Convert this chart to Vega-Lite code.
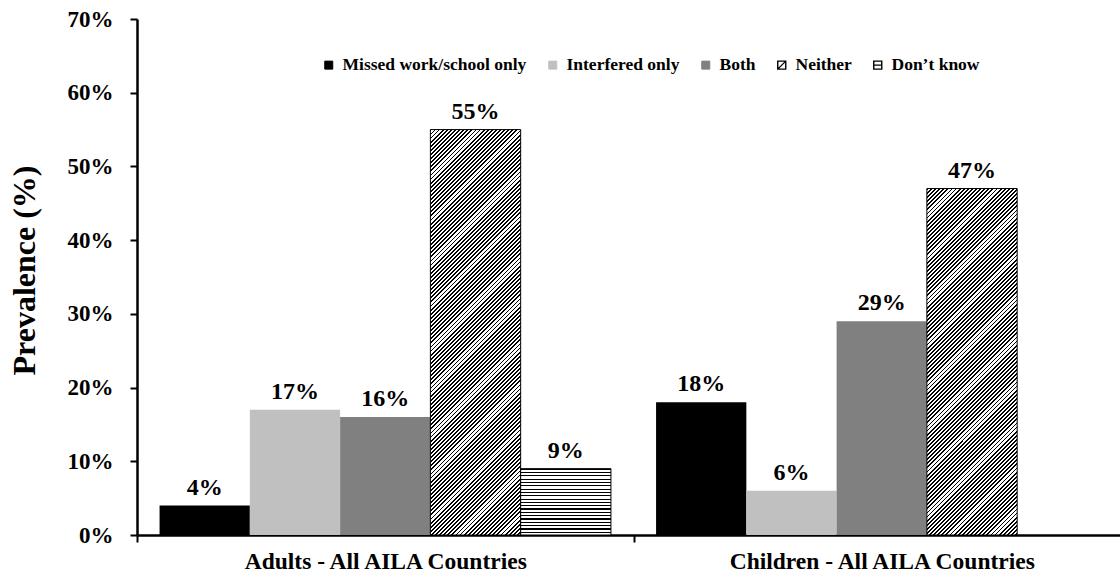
{
  "$schema": "https://vega.github.io/schema/vega-lite/v6.json",
  "autosize": {"type": "none"},
  "padding": {"left": 137, "top": 19, "right": 0, "bottom": 39},
  "width": 983,
  "height": 516,
  "background": "white",
  "config": {"view": {"stroke": null}, "font": "Liberation Serif"},
  "params": [
    {
      "name": "hatchStops",
      "value": [
        {"offset":0,"color":"#000"},{"offset":0.0036,"color":"#000"},{"offset":0.0036,"color":"#fff"},{"offset":0.008,"color":"#fff"},
        {"offset":0.008,"color":"#000"},{"offset":0.0116,"color":"#000"},{"offset":0.0116,"color":"#fff"},{"offset":0.016,"color":"#fff"},
        {"offset":0.016,"color":"#000"},{"offset":0.0196,"color":"#000"},{"offset":0.0196,"color":"#fff"},{"offset":0.024,"color":"#fff"},
        {"offset":0.024,"color":"#000"},{"offset":0.0276,"color":"#000"},{"offset":0.0276,"color":"#fff"},{"offset":0.032,"color":"#fff"},
        {"offset":0.032,"color":"#000"},{"offset":0.0356,"color":"#000"},{"offset":0.0356,"color":"#fff"},{"offset":0.04,"color":"#fff"},
        {"offset":0.04,"color":"#000"},{"offset":0.0436,"color":"#000"},{"offset":0.0436,"color":"#fff"},{"offset":0.048,"color":"#fff"},
        {"offset":0.048,"color":"#000"},{"offset":0.0516,"color":"#000"},{"offset":0.0516,"color":"#fff"},{"offset":0.056,"color":"#fff"},
        {"offset":0.056,"color":"#000"},{"offset":0.0596,"color":"#000"},{"offset":0.0596,"color":"#fff"},{"offset":0.064,"color":"#fff"},
        {"offset":0.064,"color":"#000"},{"offset":0.0676,"color":"#000"},{"offset":0.0676,"color":"#fff"},{"offset":0.072,"color":"#fff"},
        {"offset":0.072,"color":"#000"},{"offset":0.0756,"color":"#000"},{"offset":0.0756,"color":"#fff"},{"offset":0.08,"color":"#fff"},
        {"offset":0.08,"color":"#000"},{"offset":0.0836,"color":"#000"},{"offset":0.0836,"color":"#fff"},{"offset":0.088,"color":"#fff"},
        {"offset":0.088,"color":"#000"},{"offset":0.0916,"color":"#000"},{"offset":0.0916,"color":"#fff"},{"offset":0.096,"color":"#fff"},
        {"offset":0.096,"color":"#000"},{"offset":0.0996,"color":"#000"},{"offset":0.0996,"color":"#fff"},{"offset":0.104,"color":"#fff"},
        {"offset":0.104,"color":"#000"},{"offset":0.1076,"color":"#000"},{"offset":0.1076,"color":"#fff"},{"offset":0.112,"color":"#fff"},
        {"offset":0.112,"color":"#000"},{"offset":0.1156,"color":"#000"},{"offset":0.1156,"color":"#fff"},{"offset":0.12,"color":"#fff"},
        {"offset":0.12,"color":"#000"},{"offset":0.1236,"color":"#000"},{"offset":0.1236,"color":"#fff"},{"offset":0.128,"color":"#fff"},
        {"offset":0.128,"color":"#000"},{"offset":0.1316,"color":"#000"},{"offset":0.1316,"color":"#fff"},{"offset":0.136,"color":"#fff"},
        {"offset":0.136,"color":"#000"},{"offset":0.1396,"color":"#000"},{"offset":0.1396,"color":"#fff"},{"offset":0.144,"color":"#fff"},
        {"offset":0.144,"color":"#000"},{"offset":0.1476,"color":"#000"},{"offset":0.1476,"color":"#fff"},{"offset":0.152,"color":"#fff"},
        {"offset":0.152,"color":"#000"},{"offset":0.1556,"color":"#000"},{"offset":0.1556,"color":"#fff"},{"offset":0.16,"color":"#fff"},
        {"offset":0.16,"color":"#000"},{"offset":0.1636,"color":"#000"},{"offset":0.1636,"color":"#fff"},{"offset":0.168,"color":"#fff"},
        {"offset":0.168,"color":"#000"},{"offset":0.1716,"color":"#000"},{"offset":0.1716,"color":"#fff"},{"offset":0.176,"color":"#fff"},
        {"offset":0.176,"color":"#000"},{"offset":0.1796,"color":"#000"},{"offset":0.1796,"color":"#fff"},{"offset":0.184,"color":"#fff"},
        {"offset":0.184,"color":"#000"},{"offset":0.1876,"color":"#000"},{"offset":0.1876,"color":"#fff"},{"offset":0.192,"color":"#fff"},
        {"offset":0.192,"color":"#000"},{"offset":0.1956,"color":"#000"},{"offset":0.1956,"color":"#fff"},{"offset":0.2,"color":"#fff"},
        {"offset":0.2,"color":"#000"},{"offset":0.2036,"color":"#000"},{"offset":0.2036,"color":"#fff"},{"offset":0.208,"color":"#fff"},
        {"offset":0.208,"color":"#000"},{"offset":0.2116,"color":"#000"},{"offset":0.2116,"color":"#fff"},{"offset":0.216,"color":"#fff"},
        {"offset":0.216,"color":"#000"},{"offset":0.2196,"color":"#000"},{"offset":0.2196,"color":"#fff"},{"offset":0.224,"color":"#fff"},
        {"offset":0.224,"color":"#000"},{"offset":0.2276,"color":"#000"},{"offset":0.2276,"color":"#fff"},{"offset":0.232,"color":"#fff"},
        {"offset":0.232,"color":"#000"},{"offset":0.2356,"color":"#000"},{"offset":0.2356,"color":"#fff"},{"offset":0.24,"color":"#fff"},
        {"offset":0.24,"color":"#000"},{"offset":0.2436,"color":"#000"},{"offset":0.2436,"color":"#fff"},{"offset":0.248,"color":"#fff"},
        {"offset":0.248,"color":"#000"},{"offset":0.2516,"color":"#000"},{"offset":0.2516,"color":"#fff"},{"offset":0.256,"color":"#fff"},
        {"offset":0.256,"color":"#000"},{"offset":0.2596,"color":"#000"},{"offset":0.2596,"color":"#fff"},{"offset":0.264,"color":"#fff"},
        {"offset":0.264,"color":"#000"},{"offset":0.2676,"color":"#000"},{"offset":0.2676,"color":"#fff"},{"offset":0.272,"color":"#fff"},
        {"offset":0.272,"color":"#000"},{"offset":0.2756,"color":"#000"},{"offset":0.2756,"color":"#fff"},{"offset":0.28,"color":"#fff"},
        {"offset":0.28,"color":"#000"},{"offset":0.2836,"color":"#000"},{"offset":0.2836,"color":"#fff"},{"offset":0.288,"color":"#fff"},
        {"offset":0.288,"color":"#000"},{"offset":0.2916,"color":"#000"},{"offset":0.2916,"color":"#fff"},{"offset":0.296,"color":"#fff"},
        {"offset":0.296,"color":"#000"},{"offset":0.2996,"color":"#000"},{"offset":0.2996,"color":"#fff"},{"offset":0.304,"color":"#fff"},
        {"offset":0.304,"color":"#000"},{"offset":0.3076,"color":"#000"},{"offset":0.3076,"color":"#fff"},{"offset":0.312,"color":"#fff"},
        {"offset":0.312,"color":"#000"},{"offset":0.3156,"color":"#000"},{"offset":0.3156,"color":"#fff"},{"offset":0.32,"color":"#fff"},
        {"offset":0.32,"color":"#000"},{"offset":0.3236,"color":"#000"},{"offset":0.3236,"color":"#fff"},{"offset":0.328,"color":"#fff"},
        {"offset":0.328,"color":"#000"},{"offset":0.3316,"color":"#000"},{"offset":0.3316,"color":"#fff"},{"offset":0.336,"color":"#fff"},
        {"offset":0.336,"color":"#000"},{"offset":0.3396,"color":"#000"},{"offset":0.3396,"color":"#fff"},{"offset":0.344,"color":"#fff"},
        {"offset":0.344,"color":"#000"},{"offset":0.3476,"color":"#000"},{"offset":0.3476,"color":"#fff"},{"offset":0.352,"color":"#fff"},
        {"offset":0.352,"color":"#000"},{"offset":0.3556,"color":"#000"},{"offset":0.3556,"color":"#fff"},{"offset":0.36,"color":"#fff"},
        {"offset":0.36,"color":"#000"},{"offset":0.3636,"color":"#000"},{"offset":0.3636,"color":"#fff"},{"offset":0.368,"color":"#fff"},
        {"offset":0.368,"color":"#000"},{"offset":0.3716,"color":"#000"},{"offset":0.3716,"color":"#fff"},{"offset":0.376,"color":"#fff"},
        {"offset":0.376,"color":"#000"},{"offset":0.3796,"color":"#000"},{"offset":0.3796,"color":"#fff"},{"offset":0.384,"color":"#fff"},
        {"offset":0.384,"color":"#000"},{"offset":0.3876,"color":"#000"},{"offset":0.3876,"color":"#fff"},{"offset":0.392,"color":"#fff"},
        {"offset":0.392,"color":"#000"},{"offset":0.3956,"color":"#000"},{"offset":0.3956,"color":"#fff"},{"offset":0.4,"color":"#fff"},
        {"offset":0.4,"color":"#000"},{"offset":0.4036,"color":"#000"},{"offset":0.4036,"color":"#fff"},{"offset":0.408,"color":"#fff"},
        {"offset":0.408,"color":"#000"},{"offset":0.4116,"color":"#000"},{"offset":0.4116,"color":"#fff"},{"offset":0.416,"color":"#fff"},
        {"offset":0.416,"color":"#000"},{"offset":0.4196,"color":"#000"},{"offset":0.4196,"color":"#fff"},{"offset":0.424,"color":"#fff"},
        {"offset":0.424,"color":"#000"},{"offset":0.4276,"color":"#000"},{"offset":0.4276,"color":"#fff"},{"offset":0.432,"color":"#fff"},
        {"offset":0.432,"color":"#000"},{"offset":0.4356,"color":"#000"},{"offset":0.4356,"color":"#fff"},{"offset":0.44,"color":"#fff"},
        {"offset":0.44,"color":"#000"},{"offset":0.4436,"color":"#000"},{"offset":0.4436,"color":"#fff"},{"offset":0.448,"color":"#fff"},
        {"offset":0.448,"color":"#000"},{"offset":0.4516,"color":"#000"},{"offset":0.4516,"color":"#fff"},{"offset":0.456,"color":"#fff"},
        {"offset":0.456,"color":"#000"},{"offset":0.4596,"color":"#000"},{"offset":0.4596,"color":"#fff"},{"offset":0.464,"color":"#fff"},
        {"offset":0.464,"color":"#000"},{"offset":0.4676,"color":"#000"},{"offset":0.4676,"color":"#fff"},{"offset":0.472,"color":"#fff"},
        {"offset":0.472,"color":"#000"},{"offset":0.4756,"color":"#000"},{"offset":0.4756,"color":"#fff"},{"offset":0.48,"color":"#fff"},
        {"offset":0.48,"color":"#000"},{"offset":0.4836,"color":"#000"},{"offset":0.4836,"color":"#fff"},{"offset":0.488,"color":"#fff"},
        {"offset":0.488,"color":"#000"},{"offset":0.4916,"color":"#000"},{"offset":0.4916,"color":"#fff"},{"offset":0.496,"color":"#fff"},
        {"offset":0.496,"color":"#000"},{"offset":0.4996,"color":"#000"},{"offset":0.4996,"color":"#fff"},{"offset":0.504,"color":"#fff"},
        {"offset":0.504,"color":"#000"},{"offset":0.5076,"color":"#000"},{"offset":0.5076,"color":"#fff"},{"offset":0.512,"color":"#fff"},
        {"offset":0.512,"color":"#000"},{"offset":0.5156,"color":"#000"},{"offset":0.5156,"color":"#fff"},{"offset":0.52,"color":"#fff"},
        {"offset":0.52,"color":"#000"},{"offset":0.5236,"color":"#000"},{"offset":0.5236,"color":"#fff"},{"offset":0.528,"color":"#fff"},
        {"offset":0.528,"color":"#000"},{"offset":0.5316,"color":"#000"},{"offset":0.5316,"color":"#fff"},{"offset":0.536,"color":"#fff"},
        {"offset":0.536,"color":"#000"},{"offset":0.5396,"color":"#000"},{"offset":0.5396,"color":"#fff"},{"offset":0.544,"color":"#fff"},
        {"offset":0.544,"color":"#000"},{"offset":0.5476,"color":"#000"},{"offset":0.5476,"color":"#fff"},{"offset":0.552,"color":"#fff"},
        {"offset":0.552,"color":"#000"},{"offset":0.5556,"color":"#000"},{"offset":0.5556,"color":"#fff"},{"offset":0.56,"color":"#fff"},
        {"offset":0.56,"color":"#000"},{"offset":0.5636,"color":"#000"},{"offset":0.5636,"color":"#fff"},{"offset":0.568,"color":"#fff"},
        {"offset":0.568,"color":"#000"},{"offset":0.5716,"color":"#000"},{"offset":0.5716,"color":"#fff"},{"offset":0.576,"color":"#fff"},
        {"offset":0.576,"color":"#000"},{"offset":0.5796,"color":"#000"},{"offset":0.5796,"color":"#fff"},{"offset":0.584,"color":"#fff"},
        {"offset":0.584,"color":"#000"},{"offset":0.5876,"color":"#000"},{"offset":0.5876,"color":"#fff"},{"offset":0.592,"color":"#fff"},
        {"offset":0.592,"color":"#000"},{"offset":0.5956,"color":"#000"},{"offset":0.5956,"color":"#fff"},{"offset":0.6,"color":"#fff"},
        {"offset":0.6,"color":"#000"},{"offset":0.6036,"color":"#000"},{"offset":0.6036,"color":"#fff"},{"offset":0.608,"color":"#fff"},
        {"offset":0.608,"color":"#000"},{"offset":0.6116,"color":"#000"},{"offset":0.6116,"color":"#fff"},{"offset":0.616,"color":"#fff"},
        {"offset":0.616,"color":"#000"},{"offset":0.6196,"color":"#000"},{"offset":0.6196,"color":"#fff"},{"offset":0.624,"color":"#fff"},
        {"offset":0.624,"color":"#000"},{"offset":0.6276,"color":"#000"},{"offset":0.6276,"color":"#fff"},{"offset":0.632,"color":"#fff"},
        {"offset":0.632,"color":"#000"},{"offset":0.6356,"color":"#000"},{"offset":0.6356,"color":"#fff"},{"offset":0.64,"color":"#fff"},
        {"offset":0.64,"color":"#000"},{"offset":0.6436,"color":"#000"},{"offset":0.6436,"color":"#fff"},{"offset":0.648,"color":"#fff"},
        {"offset":0.648,"color":"#000"},{"offset":0.6516,"color":"#000"},{"offset":0.6516,"color":"#fff"},{"offset":0.656,"color":"#fff"},
        {"offset":0.656,"color":"#000"},{"offset":0.6596,"color":"#000"},{"offset":0.6596,"color":"#fff"},{"offset":0.664,"color":"#fff"},
        {"offset":0.664,"color":"#000"},{"offset":0.6676,"color":"#000"},{"offset":0.6676,"color":"#fff"},{"offset":0.672,"color":"#fff"},
        {"offset":0.672,"color":"#000"},{"offset":0.6756,"color":"#000"},{"offset":0.6756,"color":"#fff"},{"offset":0.68,"color":"#fff"},
        {"offset":0.68,"color":"#000"},{"offset":0.6836,"color":"#000"},{"offset":0.6836,"color":"#fff"},{"offset":0.688,"color":"#fff"},
        {"offset":0.688,"color":"#000"},{"offset":0.6916,"color":"#000"},{"offset":0.6916,"color":"#fff"},{"offset":0.696,"color":"#fff"},
        {"offset":0.696,"color":"#000"},{"offset":0.6996,"color":"#000"},{"offset":0.6996,"color":"#fff"},{"offset":0.704,"color":"#fff"},
        {"offset":0.704,"color":"#000"},{"offset":0.7076,"color":"#000"},{"offset":0.7076,"color":"#fff"},{"offset":0.712,"color":"#fff"},
        {"offset":0.712,"color":"#000"},{"offset":0.7156,"color":"#000"},{"offset":0.7156,"color":"#fff"},{"offset":0.72,"color":"#fff"},
        {"offset":0.72,"color":"#000"},{"offset":0.7236,"color":"#000"},{"offset":0.7236,"color":"#fff"},{"offset":0.728,"color":"#fff"},
        {"offset":0.728,"color":"#000"},{"offset":0.7316,"color":"#000"},{"offset":0.7316,"color":"#fff"},{"offset":0.736,"color":"#fff"},
        {"offset":0.736,"color":"#000"},{"offset":0.7396,"color":"#000"},{"offset":0.7396,"color":"#fff"},{"offset":0.744,"color":"#fff"},
        {"offset":0.744,"color":"#000"},{"offset":0.7476,"color":"#000"},{"offset":0.7476,"color":"#fff"},{"offset":0.752,"color":"#fff"},
        {"offset":0.752,"color":"#000"},{"offset":0.7556,"color":"#000"},{"offset":0.7556,"color":"#fff"},{"offset":0.76,"color":"#fff"},
        {"offset":0.76,"color":"#000"},{"offset":0.7636,"color":"#000"},{"offset":0.7636,"color":"#fff"},{"offset":0.768,"color":"#fff"},
        {"offset":0.768,"color":"#000"},{"offset":0.7716,"color":"#000"},{"offset":0.7716,"color":"#fff"},{"offset":0.776,"color":"#fff"},
        {"offset":0.776,"color":"#000"},{"offset":0.7796,"color":"#000"},{"offset":0.7796,"color":"#fff"},{"offset":0.784,"color":"#fff"},
        {"offset":0.784,"color":"#000"},{"offset":0.7876,"color":"#000"},{"offset":0.7876,"color":"#fff"},{"offset":0.792,"color":"#fff"},
        {"offset":0.792,"color":"#000"},{"offset":0.7956,"color":"#000"},{"offset":0.7956,"color":"#fff"},{"offset":0.8,"color":"#fff"},
        {"offset":0.8,"color":"#000"},{"offset":0.8036,"color":"#000"},{"offset":0.8036,"color":"#fff"},{"offset":0.808,"color":"#fff"},
        {"offset":0.808,"color":"#000"},{"offset":0.8116,"color":"#000"},{"offset":0.8116,"color":"#fff"},{"offset":0.816,"color":"#fff"},
        {"offset":0.816,"color":"#000"},{"offset":0.8196,"color":"#000"},{"offset":0.8196,"color":"#fff"},{"offset":0.824,"color":"#fff"},
        {"offset":0.824,"color":"#000"},{"offset":0.8276,"color":"#000"},{"offset":0.8276,"color":"#fff"},{"offset":0.832,"color":"#fff"},
        {"offset":0.832,"color":"#000"},{"offset":0.8356,"color":"#000"},{"offset":0.8356,"color":"#fff"},{"offset":0.84,"color":"#fff"},
        {"offset":0.84,"color":"#000"},{"offset":0.8436,"color":"#000"},{"offset":0.8436,"color":"#fff"},{"offset":0.848,"color":"#fff"},
        {"offset":0.848,"color":"#000"},{"offset":0.8516,"color":"#000"},{"offset":0.8516,"color":"#fff"},{"offset":0.856,"color":"#fff"},
        {"offset":0.856,"color":"#000"},{"offset":0.8596,"color":"#000"},{"offset":0.8596,"color":"#fff"},{"offset":0.864,"color":"#fff"},
        {"offset":0.864,"color":"#000"},{"offset":0.8676,"color":"#000"},{"offset":0.8676,"color":"#fff"},{"offset":0.872,"color":"#fff"},
        {"offset":0.872,"color":"#000"},{"offset":0.8756,"color":"#000"},{"offset":0.8756,"color":"#fff"},{"offset":0.88,"color":"#fff"},
        {"offset":0.88,"color":"#000"},{"offset":0.8836,"color":"#000"},{"offset":0.8836,"color":"#fff"},{"offset":0.888,"color":"#fff"},
        {"offset":0.888,"color":"#000"},{"offset":0.8916,"color":"#000"},{"offset":0.8916,"color":"#fff"},{"offset":0.896,"color":"#fff"},
        {"offset":0.896,"color":"#000"},{"offset":0.8996,"color":"#000"},{"offset":0.8996,"color":"#fff"},{"offset":0.904,"color":"#fff"},
        {"offset":0.904,"color":"#000"},{"offset":0.9076,"color":"#000"},{"offset":0.9076,"color":"#fff"},{"offset":0.912,"color":"#fff"},
        {"offset":0.912,"color":"#000"},{"offset":0.9156,"color":"#000"},{"offset":0.9156,"color":"#fff"},{"offset":0.92,"color":"#fff"},
        {"offset":0.92,"color":"#000"},{"offset":0.9236,"color":"#000"},{"offset":0.9236,"color":"#fff"},{"offset":0.928,"color":"#fff"},
        {"offset":0.928,"color":"#000"},{"offset":0.9316,"color":"#000"},{"offset":0.9316,"color":"#fff"},{"offset":0.936,"color":"#fff"},
        {"offset":0.936,"color":"#000"},{"offset":0.9396,"color":"#000"},{"offset":0.9396,"color":"#fff"},{"offset":0.944,"color":"#fff"},
        {"offset":0.944,"color":"#000"},{"offset":0.9476,"color":"#000"},{"offset":0.9476,"color":"#fff"},{"offset":0.952,"color":"#fff"},
        {"offset":0.952,"color":"#000"},{"offset":0.9556,"color":"#000"},{"offset":0.9556,"color":"#fff"},{"offset":0.96,"color":"#fff"},
        {"offset":0.96,"color":"#000"},{"offset":0.9636,"color":"#000"},{"offset":0.9636,"color":"#fff"},{"offset":0.968,"color":"#fff"},
        {"offset":0.968,"color":"#000"},{"offset":0.9716,"color":"#000"},{"offset":0.9716,"color":"#fff"},{"offset":0.976,"color":"#fff"},
        {"offset":0.976,"color":"#000"},{"offset":0.9796,"color":"#000"},{"offset":0.9796,"color":"#fff"},{"offset":0.984,"color":"#fff"},
        {"offset":0.984,"color":"#000"},{"offset":0.9876,"color":"#000"},{"offset":0.9876,"color":"#fff"},{"offset":0.992,"color":"#fff"},
        {"offset":0.992,"color":"#000"},{"offset":0.9956,"color":"#000"},{"offset":0.9956,"color":"#fff"},{"offset":1,"color":"#fff"}
      ]
    }
  ],
  "data": {
    "values": [
      {"group": "Adults - All AILA Countries", "category": "Missed work/school only", "value": 0.04},
      {"group": "Adults - All AILA Countries", "category": "Interfered only", "value": 0.17},
      {"group": "Adults - All AILA Countries", "category": "Both", "value": 0.16},
      {"group": "Adults - All AILA Countries", "category": "Neither", "value": 0.55},
      {"group": "Adults - All AILA Countries", "category": "Don’t know", "value": 0.09},
      {"group": "Children - All AILA Countries", "category": "Missed work/school only", "value": 0.18},
      {"group": "Children - All AILA Countries", "category": "Interfered only", "value": 0.06},
      {"group": "Children - All AILA Countries", "category": "Both", "value": 0.29},
      {"group": "Children - All AILA Countries", "category": "Neither", "value": 0.47}
    ]
  },
  "encoding": {
    "x": {
      "field": "group",
      "type": "nominal",
      "scale": {
        "domain": ["Adults - All AILA Countries", "Children - All AILA Countries"],
        "range": [0, 993],
        "paddingInner": 0,
        "paddingOuter": 0
      },
      "axis": {
        "title": null,
        "labelAngle": 0,
        "labelFont": "Liberation Serif",
        "labelFontSize": 23.5,
        "labelFontWeight": "bold",
        "labelColor": "#000",
        "labelPadding": 7,
        "labelLimit": 500,
        "tickBand": "extent",
        "tickColor": "#000",
        "tickWidth": 2,
        "tickSize": 7,
        "domainColor": "#000",
        "domainWidth": 2.5
      }
    },
    "xOffset": {
      "field": "category",
      "type": "nominal",
      "scale": {
        "domain": ["Missed work/school only", "Interfered only", "Both", "Neither", "Don’t know"],
        "paddingInner": 0,
        "paddingOuter": 0.25
      }
    },
    "y": {
      "field": "value",
      "type": "quantitative",
      "scale": {"domain": [0, 0.7], "nice": false},
      "axis": {
        "title": "Prevalence (%)",
        "values": [0, 0.1, 0.2, 0.3, 0.4, 0.5, 0.6, 0.7],
        "format": ".0%",
        "grid": false,
        "domainColor": "#000",
        "domainWidth": 2.5,
        "tickColor": "#000",
        "tickWidth": 2,
        "tickSize": 7,
        "labelFont": "Liberation Serif",
        "labelFontSize": 23,
        "labelFontWeight": "bold",
        "labelColor": "#000",
        "labelPadding": 17,
        "titleFont": "Liberation Serif",
        "titleFontSize": 32,
        "titleFontWeight": "bold",
        "titleColor": "#000",
        "titlePadding": 26,
        "titleY": 251
      }
    }
  },
  "layer": [
    {
      "mark": {"type": "bar"},
      "encoding": {
        "fill": {
          "field": "category",
          "type": "nominal",
          "scale": {
            "domain": ["Missed work/school only", "Interfered only", "Both", "Neither", "Don’t know"],
            "range": ["#000000", "#c0c0c0", "#808080", "#ffffff", "#ffffff"]
          },
          "legend": {
            "title": null,
            "orient": "none",
            "legendX": 183,
            "legendY": 37,
            "direction": "horizontal",
            "symbolType": "square",
            "symbolSize": 64,
            "symbolStrokeWidth": 1,
            "symbolStrokeColor": "#000",
            "labelFont": "Liberation Serif",
            "labelFontSize": 17.5,
            "labelFontWeight": "bold",
            "labelColor": "#000",
            "labelLimit": 500,
            "labelOffset": 5,
            "columnPadding": 17,
            "padding": 0,
            "encode": {
              "symbols": {
                "update": {
                  "shape": {"signal": "datum.value === 'Neither' ? 'M-1,-1H1V1H-1Z M-1,1L1,-1' : datum.value === 'Don’t know' ? 'M-1,-1H1V1H-1Z M-1,0H1' : 'square'"},
                  "fill": {"signal": "datum.value === 'Neither' || datum.value === 'Don’t know' ? '#fff' : scale('fill', datum.value)"},
                  "stroke": {"signal": "datum.value === 'Neither' || datum.value === 'Don’t know' ? '#000' : scale('fill', datum.value)"},
                  "strokeWidth": {"signal": "datum.value === 'Neither' || datum.value === 'Don’t know' ? 1.4 : 1"}
                }
              }
            }
          }
        }
      }
    },
    {
      "transform": [{"filter": "datum.category === 'Neither' && datum.group === 'Adults - All AILA Countries'"}],
      "mark": {
        "type": "bar",
        "stroke": "#000",
        "strokeWidth": 1,
        "fill": {"expr": "{gradient: 'linear', x1: 0, y1: 0, x2: 0.2679, y2: 1.2032, stops: hatchStops}"}
      }
    },
    {
      "transform": [{"filter": "datum.category === 'Neither' && datum.group === 'Children - All AILA Countries'"}],
      "mark": {
        "type": "bar",
        "stroke": "#000",
        "strokeWidth": 1,
        "fill": {"expr": "{gradient: 'linear', x1: 0, y1: 0, x2: 0.3606, y2: 1.3839, stops: hatchStops}"}
      }
    },
    {
      "transform": [{"filter": "datum.category === 'Don’t know'"}],
      "mark": {
        "type": "bar",
        "stroke": "#000",
        "strokeWidth": 1,
        "fill": {
          "gradient": "linear",
          "x1": 0, "y1": 0, "x2": 0, "y2": 1,
          "stops": [
            {"offset":0,"color":"#000"},{"offset":0.0175,"color":"#000"},{"offset":0.0175,"color":"#fff"},{"offset":0.05,"color":"#fff"},
            {"offset":0.05,"color":"#000"},{"offset":0.0675,"color":"#000"},{"offset":0.0675,"color":"#fff"},{"offset":0.1,"color":"#fff"},
            {"offset":0.1,"color":"#000"},{"offset":0.1175,"color":"#000"},{"offset":0.1175,"color":"#fff"},{"offset":0.15,"color":"#fff"},
            {"offset":0.15,"color":"#000"},{"offset":0.1675,"color":"#000"},{"offset":0.1675,"color":"#fff"},{"offset":0.2,"color":"#fff"},
            {"offset":0.2,"color":"#000"},{"offset":0.2175,"color":"#000"},{"offset":0.2175,"color":"#fff"},{"offset":0.25,"color":"#fff"},
            {"offset":0.25,"color":"#000"},{"offset":0.2675,"color":"#000"},{"offset":0.2675,"color":"#fff"},{"offset":0.3,"color":"#fff"},
            {"offset":0.3,"color":"#000"},{"offset":0.3175,"color":"#000"},{"offset":0.3175,"color":"#fff"},{"offset":0.35,"color":"#fff"},
            {"offset":0.35,"color":"#000"},{"offset":0.3675,"color":"#000"},{"offset":0.3675,"color":"#fff"},{"offset":0.4,"color":"#fff"},
            {"offset":0.4,"color":"#000"},{"offset":0.4175,"color":"#000"},{"offset":0.4175,"color":"#fff"},{"offset":0.45,"color":"#fff"},
            {"offset":0.45,"color":"#000"},{"offset":0.4675,"color":"#000"},{"offset":0.4675,"color":"#fff"},{"offset":0.5,"color":"#fff"},
            {"offset":0.5,"color":"#000"},{"offset":0.5175,"color":"#000"},{"offset":0.5175,"color":"#fff"},{"offset":0.55,"color":"#fff"},
            {"offset":0.55,"color":"#000"},{"offset":0.5675,"color":"#000"},{"offset":0.5675,"color":"#fff"},{"offset":0.6,"color":"#fff"},
            {"offset":0.6,"color":"#000"},{"offset":0.6175,"color":"#000"},{"offset":0.6175,"color":"#fff"},{"offset":0.65,"color":"#fff"},
            {"offset":0.65,"color":"#000"},{"offset":0.6675,"color":"#000"},{"offset":0.6675,"color":"#fff"},{"offset":0.7,"color":"#fff"},
            {"offset":0.7,"color":"#000"},{"offset":0.7175,"color":"#000"},{"offset":0.7175,"color":"#fff"},{"offset":0.75,"color":"#fff"},
            {"offset":0.75,"color":"#000"},{"offset":0.7675,"color":"#000"},{"offset":0.7675,"color":"#fff"},{"offset":0.8,"color":"#fff"},
            {"offset":0.8,"color":"#000"},{"offset":0.8175,"color":"#000"},{"offset":0.8175,"color":"#fff"},{"offset":0.85,"color":"#fff"},
            {"offset":0.85,"color":"#000"},{"offset":0.8675,"color":"#000"},{"offset":0.8675,"color":"#fff"},{"offset":0.9,"color":"#fff"},
            {"offset":0.9,"color":"#000"},{"offset":0.9175,"color":"#000"},{"offset":0.9175,"color":"#fff"},{"offset":0.95,"color":"#fff"},
            {"offset":0.95,"color":"#000"},{"offset":0.9675,"color":"#000"},{"offset":0.9675,"color":"#fff"},{"offset":1,"color":"#fff"}
          ]
        }
      }
    },
    {
      "mark": {
        "type": "text",
        "font": "Liberation Serif",
        "fontSize": 24,
        "fontWeight": "bold",
        "color": "#000",
        "baseline": "alphabetic",
        "dy": -11
      },
      "encoding": {
        "text": {"field": "value", "type": "quantitative", "format": ".0%"}
      }
    }
  ]
}
